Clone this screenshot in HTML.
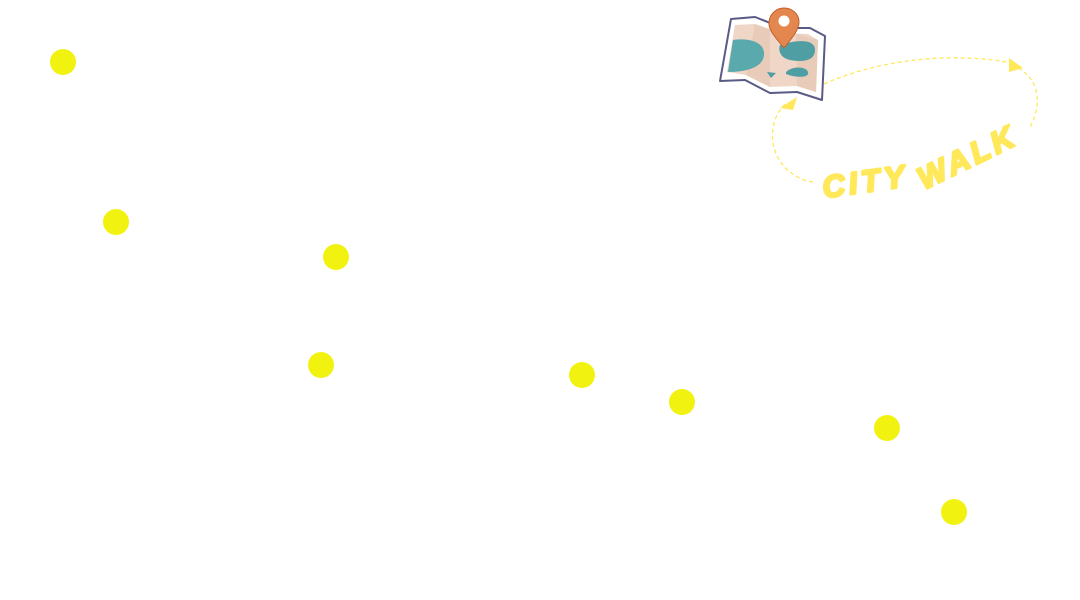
<!DOCTYPE html>
<html><head><meta charset="utf-8"><style>
html,body{margin:0;padding:0;background:#fff;width:1080px;height:600px;overflow:hidden}
</style></head><body>
<svg width="1080" height="600" viewBox="0 0 1080 600" xmlns="http://www.w3.org/2000/svg">
<g fill="#f2f211">
<circle cx="63" cy="62" r="13"/>
<circle cx="116" cy="222" r="13"/>
<circle cx="336" cy="257" r="13"/>
<circle cx="321" cy="365" r="13"/>
<circle cx="582" cy="375" r="13"/>
<circle cx="682" cy="402" r="13"/>
<circle cx="887" cy="428" r="13"/>
<circle cx="954" cy="512" r="13"/>
</g>
<g fill="none" stroke="#ffe85a" stroke-width="1.3" stroke-dasharray="4,3">
<path d="M813,182 C785,178 765,150 775,120 C778,112 782,106 788,102"/>
<path d="M824,84 C860,68 900,60 940,58 C975,57 1000,60 1015,64"/>
<path d="M1018,68 C1040,80 1042,105 1030,127"/>
</g>
<polygon points="780,108 797,97 793,110" fill="#ffe85a"/>
<polygon points="1009,58 1023,68 1009,72" fill="#ffe85a"/>
<polygon points="720,81 731,19 755,17 783,28 810,28 825,36 822,100 797,92 770,93 745,80" fill="#fff" stroke="#5a5a86" stroke-width="2" stroke-linejoin="round"/>
<polygon points="727,72 735,25 755,24 782,33 808,34 818,40 816,92 797,86 770,87 746,75" fill="#efd6c6"/>
<polygon points="755,24 770,30 770,87 746,75" fill="#e8cbb9"/>
<polygon points="796,34 818,40 816,92 797,86" fill="#e8cbb9"/>
<path d="M733,40 C745,38 765,40 764,55 C763,68 745,72 728,72 Z" fill="#5aa9ad"/>
<path d="M780,45 C795,40 815,38 815,50 C815,62 800,62 790,60 C780,58 778,50 780,45 Z" fill="#4f9ea3"/>
<path d="M786,72 C792,66 806,66 808,72 C810,78 796,78 786,74 Z" fill="#4f9ea3"/>
<path d="M767,72 L776,73 L771,78 Z" fill="#4f9ea3"/>
<path d="M784,48 C776,38 768,30 769,22 C770,13 777,8 784,8 C791,8 799,13 799,22 C799,30 792,38 784,48 Z" fill="#e3874f" stroke="#c0602c" stroke-width="1"/>
<circle cx="784" cy="21" r="5.5" fill="#fff"/>
<g font-family="Liberation Sans, sans-serif" font-weight="bold" font-style="italic" font-size="31" fill="#ffe85a" stroke="#ffe85a" stroke-width="2.5" stroke-linejoin="round" letter-spacing="4">
<text x="824" y="198" transform="rotate(-8 824 198)">CITY</text>
<text x="924" y="190" transform="rotate(-26 924 190)">WALK</text>
</g>
</svg>
</body></html>
